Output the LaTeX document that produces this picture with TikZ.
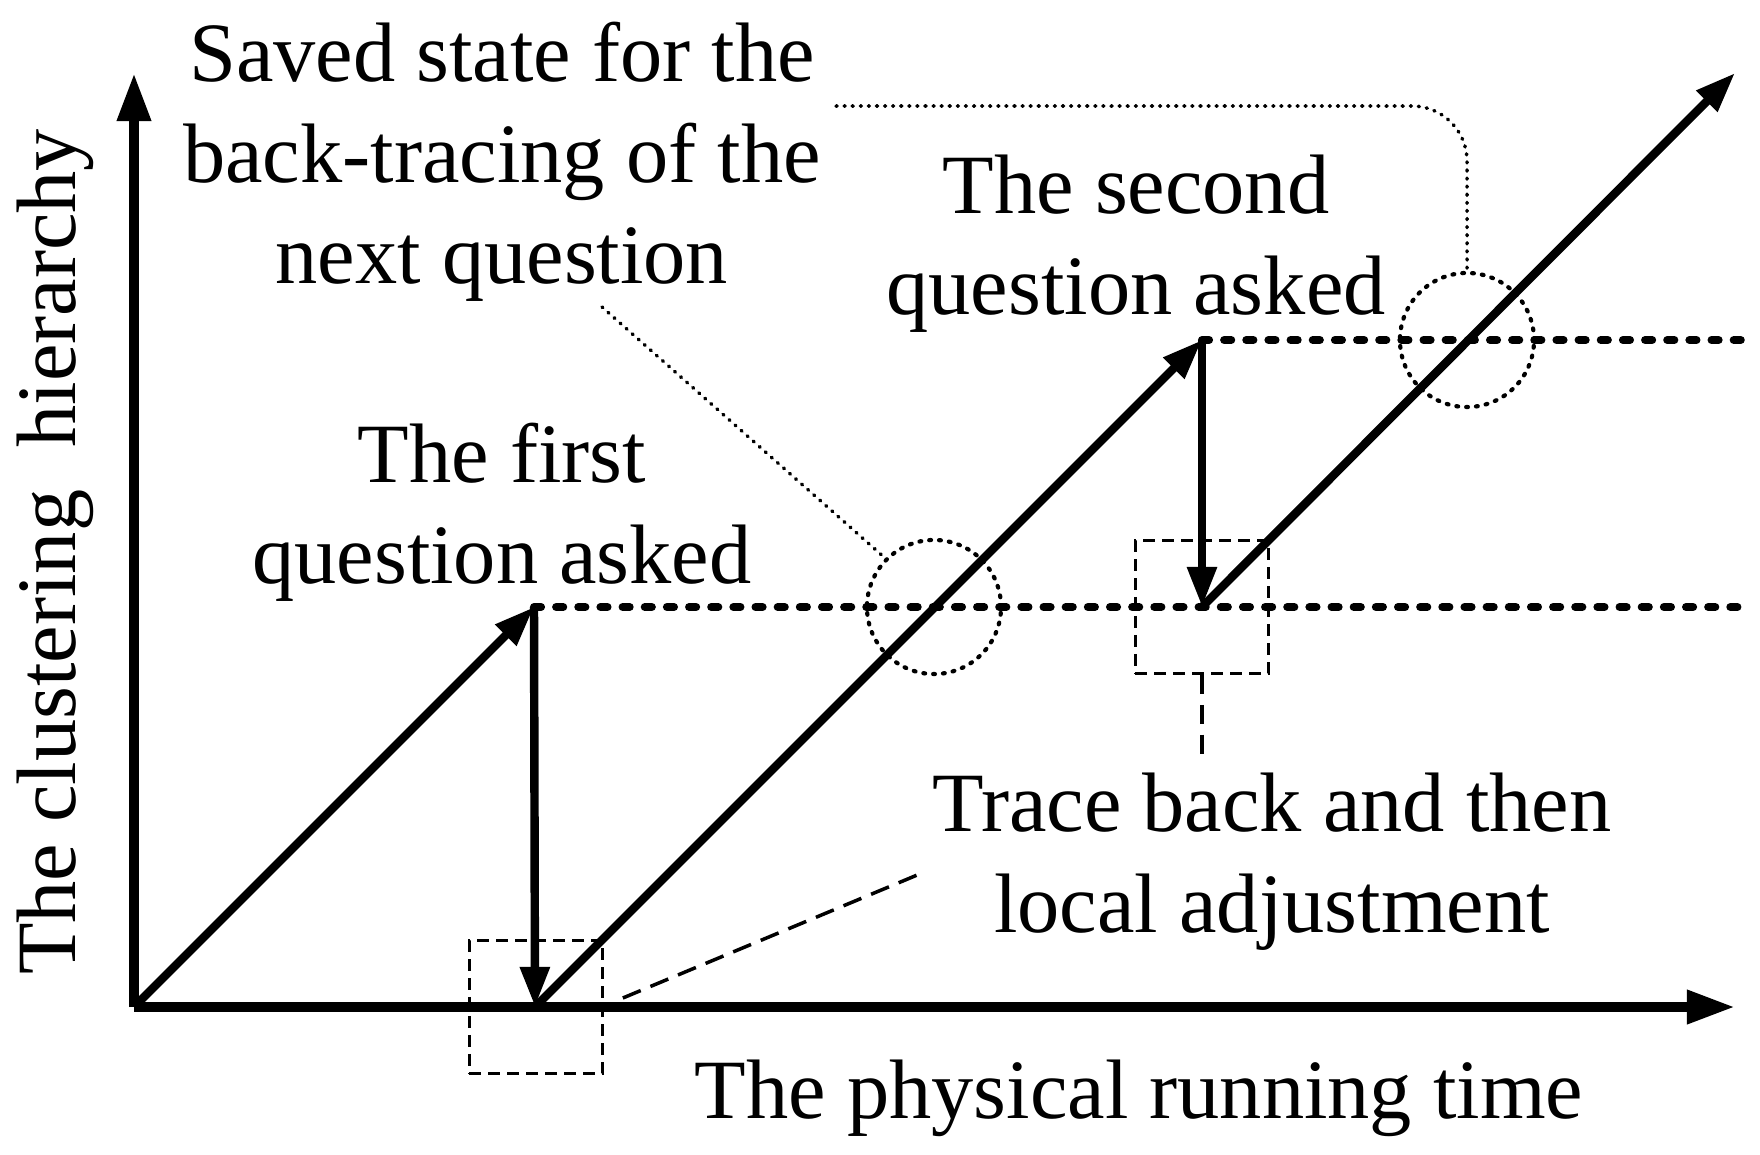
\documentclass[tikz,border=0pt]{standalone}
\usepackage{fontspec}
\setmainfont{Liberation Serif}
\usetikzlibrary{arrows.meta}

\begin{document}
\begin{tikzpicture}[x=0.01cm, y=-0.01cm,
    axis/.style={line width=2.85pt, line join=round, -{Triangle[length=13.7pt,width=9.1pt]}},
    climb/.style={line width=2.4pt, -{Triangle[length=11.4pt,width=8pt]}},
    level/.style={line width=2.3pt, line cap=round, dash pattern=on 2pt off 4.3pt},
    ring/.style={circle, draw, minimum size=1.34cm, inner sep=0pt, line width=1.2pt, line cap=round, dash pattern=on 0.5pt off 2.3pt},
    frame/.style={rectangle, draw, minimum size=1.33cm, inner sep=0pt, line width=0.75pt, dash pattern=on 3.4pt off 2pt},
    hint/.style={line width=1pt, line cap=round, dash pattern=on 0.3pt off 2pt},
    lead/.style={line width=1pt, dash pattern=on 5.5pt off 3pt},
    label/.style={inner sep=0pt, outer sep=0pt, align=center, font=\fontsize{24}{28.7}\selectfont}]
    \useasboundingbox (0,0) rectangle (1760,1154);

    % Points of the run
    \coordinate (O) at (134,1007);
    \coordinate (ytip) at (134,73);
    \coordinate (xtip) at (1735,1007);
    \coordinate (ask1) at (534,607);
    \coordinate (back1) at (535,1007);
    \coordinate (ask2) at (1202,340);
    \coordinate (back2) at (1202,607);
    \coordinate (runtip) at (1735,73);

    % Saved levels
    \draw[level] (ask1) -- (1752,607);
    \draw[level] (ask2) -- (1752,340);

    % Axes
    \draw[axis] (O) -- (ytip);
    \draw[axis] (O) -- (xtip);

    % Climbing and tracing back
    \draw[climb] (O) -- (ask1);
    \draw[climb] (ask1) -- (back1);
    \draw[climb] (back1) -- (ask2);
    \draw[climb] (ask2) -- (back2);
    \draw[climb] (back2) -- (runtip);

    % Marks
    \node[ring] (ring1) at (934,607) {};
    \node[ring] (ring2) at (1467,340) {};
    \node[frame] (box1) at (536,1007) {};
    \node[frame] (box2) at (1202,607) {};

    % Labels
    \node[label] (saved) at (502,162) {Saved state for the\\back-tracing of the\\next question};
    \node[label] (second) at (1136,244) {The second\\question asked};
    \node[label] (first) at (502,512) {The first\\question asked};
    \node[label] (trace) at (1272,862) {Trace back and then\\local adjustment};
    \node[label, anchor=base] (xlabel) at (1139,1118) {The physical running time};
    \node[label, anchor=base, rotate=90] (ylabel) at (75,552) {The clustering\ \ hierarchy};

    % Pointers
    \coordinate (savedfoot) at (602,307);
    \coordinate (savedtail) at (836,106);
    \coordinate (tracetail) at (922,873);
    \coordinate (tracetop) at (1202,762);
    \draw[hint] (savedfoot) -- (ring1.135);
    \draw[hint, rounded corners=0.55cm] (savedtail) -| (ring2.north);
    \draw[lead] (box1.east |- 0,998) ++(19,0) -- (tracetail);
    \draw[lead] (box2.south) -- (tracetop);
\end{tikzpicture}
\end{document}
